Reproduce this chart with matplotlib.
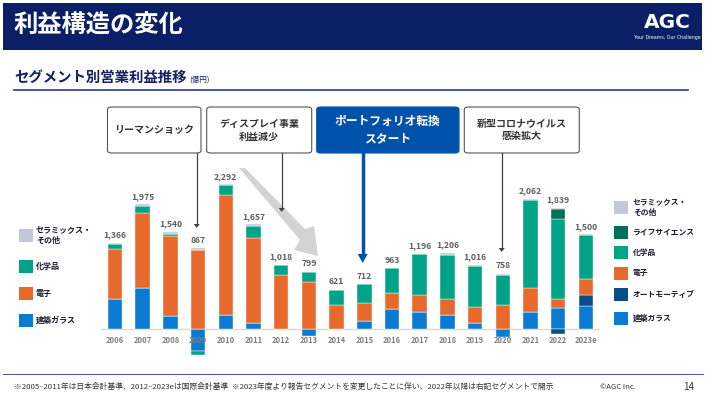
import matplotlib
matplotlib.use("Agg")
import matplotlib.pyplot as plt
from matplotlib.patches import Rectangle, FancyBboxPatch, Polygon
import numpy as np

plt.rcParams['font.family'] = ['Noto Sans CJK JP', 'DejaVu Sans']

# --- data (億円) ---
years = ['2006', '2007', '2008', '2009', '2010', '2011', '2012', '2013', '2014',
         '2015', '2016', '2017', '2018', '2019', '2020', '2021', '2022', '2023e']
totals = [1366, 1975, 1540, 867, 2292, 1657, 1018, 799, 621,
          712, 963, 1196, 1206, 1016, 758, 2062, 1839, 1500]
glass = [470, 650, 200, -343, 220, 100, 0, -111, 0, 130, 320, 275, 227, 100, -121, 275, 330, 365]
auto = [0, 0, 0, 0, 0, 0, 0, 0, 0, 0, 0, 0, 0, 0, 0, 0, -85, 170]
elec = [800, 1190, 1270, 1250, 1910, 1350, 855, 745, 380, 290, 255, 270, 245, 255, 382, 370, 143, 253]
chem = [80, 115, 40, -68, 150, 175, 163, 165, 241, 292, 388, 640, 705, 636, 470, 1395, 1265, 702]
life = [0, 0, 0, 0, 0, 0, 0, 0, 0, 0, 0, 0, 0, 0, 0, 0, 170, 0]
ceram = [16, 20, 30, 28, 12, 32, 0, 0, 0, 0, 0, 11, 29, 25, 27, 22, 16, 10]

series = [
    ('建築ガラス', glass, '#0a7bd0'),
    ('オートモーティブ', auto, '#0b4d87'),
    ('電子', elec, '#e8692c'),
    ('化学品', chem, '#00a387'),
    ('ライフサイエンス', life, '#00705a'),
    ('セラミックス・\nその他', ceram, '#c3c8d8'),
]

W, H = 706, 399
fig = plt.figure(figsize=(W / 100, H / 100), dpi=100)


def fx(x):
    return x / W


def fy(y):
    return 1 - y / H


# header
fig.patches.append(Rectangle((fx(3), fy(50)), fx(699), 47 / H, transform=fig.transFigure,
                             facecolor='#0b1f66', edgecolor='none'))
fig.text(fx(13), fy(26), '利益構造の変化', color='white', fontsize=17.5, fontweight='bold', va='center')
fig.text(fx(667), fy(22), 'AGC', color='white', fontsize=14.5, fontweight='bold', va='center', ha='center',
         family='DejaVu Sans')
fig.text(fx(667), fy(37), 'Your Dreams, Our Challenge', color='white', fontsize=3.4, va='center', ha='center',
         family='DejaVu Sans')

# subtitle
fig.text(fx(14), fy(78), 'セグメント別営業利益推移', color='#15205f', fontsize=10.4, fontweight='bold', va='center')
fig.text(fx(189), fy(80), '(億円)', color='#15205f', fontsize=5.5, va='center')
fig.add_artist(plt.Line2D([fx(14), fx(688)], [fy(89.5), fy(89.5)], color='#1f3a8a', lw=1.2))

# chart
ax = fig.add_axes([fx(101.15), fy(360), 498.6 / W, 185 / H])
n = len(years)
x = np.arange(n)
pos = np.zeros(n)
neg = np.zeros(n)
for name, vals, col in series:
    v = np.array(vals, dtype=float)
    bottom = np.where(v >= 0, pos, neg)
    ax.bar(x, v, 0.52, bottom=bottom, color=col, edgecolor='white', linewidth=0.3, zorder=2)
    pos = pos + np.where(v > 0, v, 0)
    neg = neg + np.where(v < 0, v, 0)

ax.axhline(0, color='#d9d9d9', lw=1, zorder=1)
for i in range(n):
    ax.annotate(f'{totals[i]:,}', (x[i], pos[i]), xytext=(0, 2.5), textcoords='offset points',
                ha='center', va='bottom', fontsize=6.2, fontweight='bold', color='#606060')
    ax.annotate(years[i], (x[i], 0), xytext=(0, -8), textcoords='offset points',
                ha='center', va='center', fontsize=5.5, fontweight='bold', color='#808080', zorder=5)
ax.set_xlim(-0.5, n - 0.5)
ax.set_ylim(-491, 2441)
ax.axis('off')

# legends
left_leg = [('セラミックス・\nその他', '#c3c8d8', 235), ('化学品', '#00a387', 266),
            ('電子', '#e8692c', 293), ('建築ガラス', '#0a7bd0', 320)]
for lab, col, yc in left_leg:
    fig.patches.append(Rectangle((fx(18.5), fy(yc + 6.5)), 14 / W, 13 / H, transform=fig.transFigure,
                                 facecolor=col, edgecolor='none'))
    fig.text(fx(36), fy(yc), lab, fontsize=5.8, fontweight='bold', color='#1a1a2e', va='center',
             linespacing=1.3)
right_leg = [('セラミックス・\nその他', '#c3c8d8', 207), ('ライフサイエンス', '#00705a', 232),
             ('化学品', '#00a387', 252), ('電子', '#e8692c', 273), ('オートモーティブ', '#0b4d87', 294),
             ('建築ガラス', '#0a7bd0', 318)]
for lab, col, yc in right_leg:
    fig.patches.append(Rectangle((fx(614), fy(yc + 6.5)), 14 / W, 13 / H, transform=fig.transFigure,
                                 facecolor=col, edgecolor='none'))
    fig.text(fx(633), fy(yc), lab, fontsize=5.6, fontweight='bold', color='#1a1a2e', va='center',
             linespacing=1.3)

# big grey arrow
grey_pts = [(239, 168), (245, 168), (305, 229), (314, 226), (318, 256), (294, 250), (300, 240)]
fig.patches.append(Polygon([(fx(a), fy(b)) for a, b in grey_pts], closed=True, transform=fig.transFigure,
                           facecolor='#d3d3d3', edgecolor='none'))

# annotation boxes
boxes = [(107.5, 201, 'リーマンショック', False, 196.7, 228),
         (206.7, 311.7, 'ディスプレイ事業\n利益減少', False, 281.7, 212),
         (316.7, 459, 'ポートフォリオ転換\nスタート', True, 362.7, 263),
         (464.3, 579.3, '新型コロナウイルス\n感染拡大', False, 501.7, 252)]
for x0, x1, lab, hl, lx, ly in boxes:
    fc = '#0052aa' if hl else 'white'
    ec = '#0052aa' if hl else '#555555'
    fig.patches.append(FancyBboxPatch((fx(x0), fy(153)), (x1 - x0) / W, 46 / H,
                                      boxstyle='round,pad=0,rounding_size=0.006',
                                      transform=fig.transFigure, facecolor=fc, edgecolor=ec, lw=0.8))
    fig.text(fx((x0 + x1) / 2), fy(130), lab, ha='center', va='center', linespacing=1.35,
             fontsize=8.5 if hl else 7.2, fontweight='bold', color='white' if hl else '#333333')
    if hl:
        fig.add_artist(plt.Line2D([fx(lx), fx(lx)], [fy(153), fy(256)], color='#0052aa', lw=2.5))
        fig.patches.append(Polygon([(fx(lx - 5), fy(254)), (fx(lx + 5), fy(254)), (fx(lx), fy(ly))],
                                   transform=fig.transFigure, facecolor='#0052aa', edgecolor='none'))
    else:
        fig.add_artist(plt.Line2D([fx(lx), fx(lx)], [fy(153), fy(ly - 3)], color='#444444', lw=0.9))
        fig.patches.append(Polygon([(fx(lx - 3), fy(ly - 4)), (fx(lx + 3), fy(ly - 4)), (fx(lx), fy(ly))],
                                   transform=fig.transFigure, facecolor='#444444', edgecolor='none'))

# footer
fig.add_artist(plt.Line2D([fx(3), fx(703)], [fy(374), fy(374)], color='#1f3a8a', lw=0.6))
fig.text(fx(14), fy(387), '※2005–2011年は日本会計基準、2012–2023eは国際会計基準  ※2023年度より報告セグメントを変更したことに伴い、2022年以降は右記セグメントで開示',
         fontsize=5.6, color='#333333', va='center')
fig.text(fx(600), fy(387), '©AGC Inc.', fontsize=5.5, color='#333333', va='center')
fig.text(fx(683), fy(387), '14', fontsize=7, color='#333333', va='center')

fig.savefig('out.png', dpi=100)
